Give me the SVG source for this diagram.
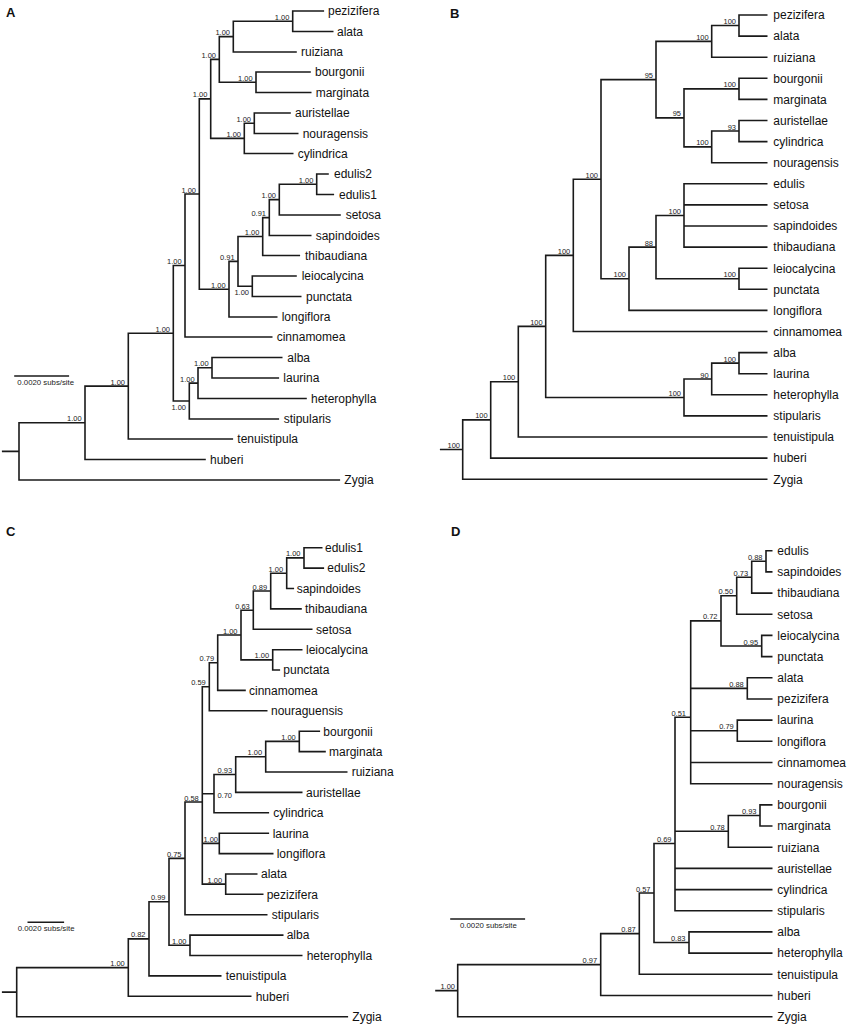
<svg xmlns="http://www.w3.org/2000/svg" width="851" height="1027" viewBox="0 0 851 1027">
<style>
.br{fill:none;stroke:#1a1a1a;stroke-width:1.6;stroke-linecap:square}
.tip{font-family:"Liberation Sans",Arial,sans-serif;font-size:12px;fill:#111}
.sup{font-family:"Liberation Sans",Arial,sans-serif;font-size:7.5px;fill:#222;text-anchor:end}
.sc{font-family:"Liberation Sans",Arial,sans-serif;font-size:7.8px;fill:#222}
.pl{font-family:"Liberation Sans",Arial,sans-serif;font-size:13px;font-weight:bold;fill:#111}
</style>
<rect width="851" height="1027" fill="#fff"/>

<!-- Panel A -->
<g id="panelA">
<text class="pl" x="6" y="17.4">A</text>
<g id="A-connectors">
<path class="br" d="M292.7 11 H323.3 M292.7 31.5 H332.7 M233.3 52 H296 M256 72 H310 M256 92.5 H310.7 M254.3 113 H290 M254.3 133.5 H297.7 M244.3 153.5 H292.7 M316.7 174 H328 M316.7 194.5 H333.3 M279.3 215 H340 M269.3 235.5 H310.7 M262.7 255.5 H299.3 M252.3 276 H296 M252.3 296.5 H300.7 M229 317 H276.7 M185 337 H271.7 M212 357.5 H281.7 M212 378 H278.3 M198 398.5 H306 M189.3 419 H278.3 M128.3 439 H232.3 M85 459.5 H205 M19 480 H339.3
M292.7 11 V31.5 M233.3 21.25 H292.7
M233.3 21.25 V52 M219.3 36.6 H233.3
M256 72 V92.5 M219.3 82.25 H256
M219.3 36.6 V82.25 M210.7 59.4 H219.3
M254.3 113 V133.5 M244.3 123.25 H254.3
M244.3 123.25 V153.5 M210.7 138.4 H244.3
M210.7 59.4 V138.4 M199.3 98.9 H210.7
M316.7 174 V194.5 M279.3 184.25 H316.7
M279.3 184.25 V215 M269.3 199.6 H279.3
M269.3 199.6 V235.5 M262.7 217.6 H269.3
M262.7 217.6 V255.5 M238 236.5 H262.7
M252.3 276 V296.5 M238 286.25 H252.3
M238 236.5 V286.25 M229 261.4 H238
M229 261.4 V317 M199.3 289.2 H229
M199.3 98.9 V289.2 M185 194 H199.3
M185 194 V337 M173.3 265.5 H185
M212 357.5 V378 M198 367.75 H212
M198 367.75 V398.5 M189.3 383.1 H198
M189.3 383.1 V419 M173.3 401 H189.3
M173.3 265.5 V401 M128.3 333.25 H173.3
M128.3 333.25 V439 M85 386.1 H128.3
M85 386.1 V459.5 M19 422.8 H85
M19 422.8 V480 M2.7 451.4 H19"/>
</g>
<g id="A-support">
<text class="sup" x="289.4" y="19.75">1.00</text>
<text class="sup" x="230" y="35.1">1.00</text>
<text class="sup" x="252.7" y="80.75">1.00</text>
<text class="sup" x="216" y="57.9">1.00</text>
<text class="sup" x="251" y="121.75">1.00</text>
<text class="sup" x="241" y="136.9">1.00</text>
<text class="sup" x="207.4" y="97.4">1.00</text>
<text class="sup" x="313.4" y="182.75">1.00</text>
<text class="sup" x="276" y="198.1">1.00</text>
<text class="sup" x="266" y="216.1">0.91</text>
<text class="sup" x="259.4" y="235">1.00</text>
<text class="sup" x="249" y="295.25">1.00</text>
<text class="sup" x="234.7" y="259.9">0.91</text>
<text class="sup" x="225.7" y="287.7">1.00</text>
<text class="sup" x="196" y="192.5">1.00</text>
<text class="sup" x="181.7" y="264">1.00</text>
<text class="sup" x="208.7" y="366.25">1.00</text>
<text class="sup" x="194.7" y="381.6">1.00</text>
<text class="sup" x="186" y="410">1.00</text>
<text class="sup" x="170" y="331.75">1.00</text>
<text class="sup" x="125" y="384.6">1.00</text>
<text class="sup" x="81.7" y="421.3">1.00</text>
</g>
<g id="A-scale">
<path class="br" d="M15 376 H68.3"/>
<text class="sc" x="17.3" y="385.4">0.0020 subs/site</text>
</g>
<g id="A-pezizifera"><text class="tip" x="328" y="15.3">pezizifera</text></g>
<g id="A-alata"><text class="tip" x="337" y="35.8">alata</text></g>
<g id="A-ruiziana"><text class="tip" x="301" y="56.3">ruiziana</text></g>
<g id="A-bourgonii"><text class="tip" x="315" y="76.3">bourgonii</text></g>
<g id="A-marginata"><text class="tip" x="315.7" y="96.8">marginata</text></g>
<g id="A-auristellae"><text class="tip" x="295" y="117.3">auristellae</text></g>
<g id="A-nouragensis"><text class="tip" x="302.7" y="137.8">nouragensis</text></g>
<g id="A-cylindrica"><text class="tip" x="297.7" y="157.8">cylindrica</text></g>
<g id="A-edulis2"><text class="tip" x="334" y="178.3">edulis2</text></g>
<g id="A-edulis1"><text class="tip" x="339" y="198.8">edulis1</text></g>
<g id="A-setosa"><text class="tip" x="345.7" y="219.3">setosa</text></g>
<g id="A-sapindoides"><text class="tip" x="315.7" y="239.8">sapindoides</text></g>
<g id="A-thibaudiana"><text class="tip" x="305" y="259.8">thibaudiana</text></g>
<g id="A-leiocalycina"><text class="tip" x="301.7" y="280.3">leiocalycina</text></g>
<g id="A-punctata"><text class="tip" x="306" y="300.8">punctata</text></g>
<g id="A-longiflora"><text class="tip" x="281.7" y="321.3">longiflora</text></g>
<g id="A-cinnamomea"><text class="tip" x="276.7" y="341.3">cinnamomea</text></g>
<g id="A-alba"><text class="tip" x="287.3" y="361.8">alba</text></g>
<g id="A-laurina"><text class="tip" x="283.3" y="382.3">laurina</text></g>
<g id="A-heterophylla"><text class="tip" x="311" y="402.8">heterophylla</text></g>
<g id="A-stipularis"><text class="tip" x="283.7" y="423.3">stipularis</text></g>
<g id="A-tenuistipula"><text class="tip" x="237.3" y="443.3">tenuistipula</text></g>
<g id="A-huberi"><text class="tip" x="210" y="463.8">huberi</text></g>
<g id="A-Zygia"><text class="tip" x="344.3" y="484.3">Zygia</text></g>
</g>

<!-- Panel B -->
<g id="panelB">
<text class="pl" x="450" y="17.7">B</text>
<g id="B-connectors">
<path class="br" d="M739 15 H766.7 M739 36.1 H766.7 M711.7 57.2 H766.7 M739 78.3 H766.7 M739 99.4 H766.7 M739 120.5 H766.7 M739 141.6 H766.7 M711.7 162.7 H766.7 M684 183.8 H766.7 M684 204.9 H766.7 M684 226 H766.7 M684 247.1 H766.7 M739 268.2 H766.7 M739 289.3 H766.7 M629 310.4 H766.7 M573.3 331.5 H766.7 M739 352.6 H766.7 M739 373.7 H766.7 M711.7 394.8 H766.7 M684 415.9 H766.7 M518.3 437 H766.7 M490.7 458.1 H766.7 M462.7 479.2 H766.7
M739 15 V36.1 M711.7 25.55 H739
M711.7 25.55 V57.2 M656 41.4 H711.7
M739 78.3 V99.4 M684 88.85 H739
M739 120.5 V141.6 M711.7 131.05 H739
M711.7 131.05 V162.7 M684 146.9 H711.7
M684 88.85 V146.9 M656 117.9 H684
M656 41.4 V117.9 M601 79.65 H656
M684 183.8 V247.1 M656 215.45 H684
M739 268.2 V289.3 M656 278.75 H739
M656 215.45 V278.75 M629 247.1 H656
M629 247.1 V310.4 M601 278.75 H629
M601 79.65 V278.75 M573.3 179.2 H601
M573.3 179.2 V331.5 M545.7 255.35 H573.3
M739 352.6 V373.7 M711.7 363.15 H739
M711.7 363.15 V394.8 M684 379 H711.7
M684 379 V415.9 M545.7 397.45 H684
M545.7 255.35 V397.45 M518.3 326.4 H545.7
M518.3 326.4 V437 M490.7 381.7 H518.3
M490.7 381.7 V458.1 M462.7 419.9 H490.7
M462.7 419.9 V479.2 M440.7 449.55 H462.7"/>
</g>
<g id="B-support">
<text class="sup" x="736" y="24.05">100</text>
<text class="sup" x="708.7" y="39.9">100</text>
<text class="sup" x="736" y="87.35">100</text>
<text class="sup" x="736" y="129.55">93</text>
<text class="sup" x="708.7" y="145.4">100</text>
<text class="sup" x="681" y="116.4">95</text>
<text class="sup" x="653" y="78.15">95</text>
<text class="sup" x="681" y="213.95">100</text>
<text class="sup" x="736" y="277.25">100</text>
<text class="sup" x="653" y="245.6">88</text>
<text class="sup" x="626" y="277.25">100</text>
<text class="sup" x="598" y="177.7">100</text>
<text class="sup" x="570.3" y="253.85">100</text>
<text class="sup" x="736" y="361.65">100</text>
<text class="sup" x="708.7" y="377.5">90</text>
<text class="sup" x="681" y="395.95">100</text>
<text class="sup" x="542.7" y="324.9">100</text>
<text class="sup" x="515.3" y="380.2">100</text>
<text class="sup" x="487.7" y="418.4">100</text>
<text class="sup" x="460" y="448">100</text>
</g>
<g id="B-pezizifera"><text class="tip" x="773.3" y="19.3">pezizifera</text></g>
<g id="B-alata"><text class="tip" x="773.3" y="40.4">alata</text></g>
<g id="B-ruiziana"><text class="tip" x="773.3" y="61.5">ruiziana</text></g>
<g id="B-bourgonii"><text class="tip" x="773.3" y="82.6">bourgonii</text></g>
<g id="B-marginata"><text class="tip" x="773.3" y="103.7">marginata</text></g>
<g id="B-auristellae"><text class="tip" x="773.3" y="124.8">auristellae</text></g>
<g id="B-cylindrica"><text class="tip" x="773.3" y="145.9">cylindrica</text></g>
<g id="B-nouragensis"><text class="tip" x="773.3" y="167">nouragensis</text></g>
<g id="B-edulis"><text class="tip" x="773.3" y="188.1">edulis</text></g>
<g id="B-setosa"><text class="tip" x="773.3" y="209.2">setosa</text></g>
<g id="B-sapindoides"><text class="tip" x="773.3" y="230.3">sapindoides</text></g>
<g id="B-thibaudiana"><text class="tip" x="773.3" y="251.4">thibaudiana</text></g>
<g id="B-leiocalycina"><text class="tip" x="773.3" y="272.5">leiocalycina</text></g>
<g id="B-punctata"><text class="tip" x="773.3" y="293.6">punctata</text></g>
<g id="B-longiflora"><text class="tip" x="773.3" y="314.7">longiflora</text></g>
<g id="B-cinnamomea"><text class="tip" x="773.3" y="335.8">cinnamomea</text></g>
<g id="B-alba"><text class="tip" x="773.3" y="356.9">alba</text></g>
<g id="B-laurina"><text class="tip" x="773.3" y="378">laurina</text></g>
<g id="B-heterophylla"><text class="tip" x="773.3" y="399.1">heterophylla</text></g>
<g id="B-stipularis"><text class="tip" x="773.3" y="420.2">stipularis</text></g>
<g id="B-tenuistipula"><text class="tip" x="773.3" y="441.3">tenuistipula</text></g>
<g id="B-huberi"><text class="tip" x="773.3" y="462.4">huberi</text></g>
<g id="B-Zygia"><text class="tip" x="773.3" y="483.5">Zygia</text></g>
</g>

<!-- Panel C -->
<g id="panelC">
<text class="pl" x="6" y="536.4">C</text>
<g id="C-connectors">
<path class="br" d="M304 547.7 H321.7 M304 568.1 H323.3 M286.7 588.5 H293.3 M270.7 608.9 H301 M253.3 629.3 H311.7 M272.7 649.7 H301.7 M272.7 670 H279.3 M217.7 690.4 H245 M209.3 710.8 H266.7 M299.3 731.2 H319.3 M299.3 751.6 H325 M265.7 772 H346.7 M235.7 792.4 H301.7 M214 812.8 H268.3 M219.3 833.2 H268.3 M219.3 853.6 H272.7 M225.7 874 H256.7 M225.7 894.3 H262.7 M185 914.7 H266.7 M190 935.1 H282.7 M190 955.5 H301.7 M149 975.9 H220.7 M128.3 996.3 H250.7 M16.7 1016.7 H347.3
M304 547.7 V568.1 M286.7 557.9 H304
M286.7 557.9 V588.5 M270.7 573.2 H286.7
M270.7 573.2 V608.9 M253.3 591.05 H270.7
M253.3 591.05 V629.3 M241 610.2 H253.3
M272.7 649.7 V670 M241 659.85 H272.7
M241 610.2 V659.85 M217.7 635 H241
M217.7 635 V690.4 M209.3 662.7 H217.7
M209.3 662.7 V710.8 M202.3 686.75 H209.3
M299.3 731.2 V751.6 M265.7 741.4 H299.3
M265.7 741.4 V772 M235.7 756.7 H265.7
M235.7 756.7 V792.4 M214 774.55 H235.7
M214 774.55 V812.8 M202.3 793.7 H214
M219.3 833.2 V853.6 M202.3 843.4 H219.3
M225.7 874 V894.3 M202.3 884.15 H225.7
M202.3 686.75 V884.15 M185 802 H202.3
M185 802 V914.7 M169 858.35 H185
M190 935.1 V955.5 M169 945.3 H190
M169 858.35 V945.3 M149 901.8 H169
M149 901.8 V975.9 M128.3 938.85 H149
M128.3 938.85 V996.3 M16.7 967.6 H128.3
M16.7 967.6 V1016.7 M2.7 992.15 H16.7"/>
</g>
<g id="C-support">
<text class="sup" x="300.5" y="556.4">1.00</text>
<text class="sup" x="283.2" y="571.7">1.00</text>
<text class="sup" x="267.2" y="589.55">0.89</text>
<text class="sup" x="249.8" y="608.7">0.63</text>
<text class="sup" x="269.2" y="658.35">1.00</text>
<text class="sup" x="237.5" y="633.5">1.00</text>
<text class="sup" x="214.2" y="661.2">0.79</text>
<text class="sup" x="205.8" y="685.25">0.59</text>
<text class="sup" x="295.8" y="739.9">1.00</text>
<text class="sup" x="262.2" y="755.2">1.00</text>
<text class="sup" x="232.2" y="773.05">0.93</text>
<text class="sup" x="232" y="797.7">0.70</text>
<text class="sup" x="218" y="841.9">1.00</text>
<text class="sup" x="222.2" y="882.65">1.00</text>
<text class="sup" x="198.8" y="800.5">0.58</text>
<text class="sup" x="181.5" y="856.85">0.75</text>
<text class="sup" x="186.5" y="943.8">1.00</text>
<text class="sup" x="165.5" y="900.3">0.99</text>
<text class="sup" x="145.5" y="937.35">0.82</text>
<text class="sup" x="124.8" y="966.1">1.00</text>
</g>
<g id="C-scale">
<path class="br" d="M28.3 922.3 H63.3"/>
<text class="sc" x="17.7" y="931">0.0020 subs/site</text>
</g>
<g id="C-edulis1"><text class="tip" x="325" y="552">edulis1</text></g>
<g id="C-edulis2"><text class="tip" x="327.3" y="572.4">edulis2</text></g>
<g id="C-sapindoides"><text class="tip" x="296.7" y="592.8">sapindoides</text></g>
<g id="C-thibaudiana"><text class="tip" x="305" y="613.2">thibaudiana</text></g>
<g id="C-setosa"><text class="tip" x="316" y="633.6">setosa</text></g>
<g id="C-leiocalycina"><text class="tip" x="306" y="654">leiocalycina</text></g>
<g id="C-punctata"><text class="tip" x="283.3" y="674.3">punctata</text></g>
<g id="C-cinnamomea"><text class="tip" x="249" y="694.7">cinnamomea</text></g>
<g id="C-nouraguensis"><text class="tip" x="271" y="715.1">nouraguensis</text></g>
<g id="C-bourgonii"><text class="tip" x="323.3" y="735.5">bourgonii</text></g>
<g id="C-marginata"><text class="tip" x="329" y="755.9">marginata</text></g>
<g id="C-ruiziana"><text class="tip" x="351.7" y="776.3">ruiziana</text></g>
<g id="C-auristellae"><text class="tip" x="306" y="796.7">auristellae</text></g>
<g id="C-cylindrica"><text class="tip" x="273.3" y="817.1">cylindrica</text></g>
<g id="C-laurina"><text class="tip" x="272.7" y="837.5">laurina</text></g>
<g id="C-longiflora"><text class="tip" x="276.7" y="857.9">longiflora</text></g>
<g id="C-alata"><text class="tip" x="261" y="878.3">alata</text></g>
<g id="C-pezizifera"><text class="tip" x="266.7" y="898.6">pezizifera</text></g>
<g id="C-stipularis"><text class="tip" x="271.7" y="919">stipularis</text></g>
<g id="C-alba"><text class="tip" x="286.7" y="939.4">alba</text></g>
<g id="C-heterophylla"><text class="tip" x="306.7" y="959.8">heterophylla</text></g>
<g id="C-tenuistipula"><text class="tip" x="225.7" y="980.2">tenuistipula</text></g>
<g id="C-huberi"><text class="tip" x="255.7" y="1000.6">huberi</text></g>
<g id="C-Zygia"><text class="tip" x="352.3" y="1021">Zygia</text></g>
</g>

<!-- Panel D -->
<g id="panelD">
<text class="pl" x="451" y="536.4">D</text>
<g id="D-connectors">
<path class="br" d="M766 550.7 H771.7 M766 571.9 H771.7 M751.7 593.1 H771.7 M736.7 614.2 H771.7 M761.7 635.4 H771.7 M761.7 656.6 H771.7 M747.3 677.8 H771.7 M747.3 699 H771.7 M737.3 720.1 H771.7 M737.3 741.3 H771.7 M690.7 762.5 H771.7 M690.7 783.7 H771.7 M760 804.9 H771.7 M760 826 H771.7 M728.3 847.2 H771.7 M675 868.4 H771.7 M675 889.6 H771.7 M675 910.8 H771.7 M689 931.9 H771.7 M689 953.1 H771.7 M639.3 974.3 H771.7 M600.7 995.5 H771.7 M457.7 1016.7 H771.7
M766 550.7 V571.9 M751.7 561.3 H766
M751.7 561.3 V593.1 M736.7 577.2 H751.7
M736.7 577.2 V614.2 M721 595.7 H736.7
M761.7 635.4 V656.6 M721 646 H761.7
M721 595.7 V646 M690.7 620.85 H721
M747.3 677.8 V699 M690.7 688.4 H747.3
M737.3 720.1 V741.3 M690.7 730.7 H737.3
M690.7 620.85 V783.7 M675 717.2 H690.7
M760 804.9 V826 M728.3 815.45 H760
M728.3 815.45 V847.2 M675 831.3 H728.3
M675 717.2 V910.8 M654 843.5 H675
M689 931.9 V953.1 M654 942.5 H689
M654 843.5 V942.5 M639.3 893 H654
M639.3 893 V974.3 M600.7 933.65 H639.3
M600.7 933.65 V995.5 M457.7 964.6 H600.7
M457.7 964.6 V1016.7 M436 990.65 H457.7"/>
</g>
<g id="D-support">
<text class="sup" x="762.5" y="559.8">0.88</text>
<text class="sup" x="748.2" y="575.7">0.73</text>
<text class="sup" x="733.2" y="594.2">0.50</text>
<text class="sup" x="758.2" y="644.5">0.95</text>
<text class="sup" x="717.5" y="619.35">0.72</text>
<text class="sup" x="743.8" y="686.9">0.88</text>
<text class="sup" x="733.8" y="729.2">0.79</text>
<text class="sup" x="686" y="715.7">0.51</text>
<text class="sup" x="756.5" y="813.95">0.93</text>
<text class="sup" x="724.8" y="829.8">0.78</text>
<text class="sup" x="671.5" y="842">0.69</text>
<text class="sup" x="685.5" y="941">0.83</text>
<text class="sup" x="650.5" y="891.5">0.57</text>
<text class="sup" x="635.8" y="932.15">0.87</text>
<text class="sup" x="597.2" y="963.1">0.97</text>
<text class="sup" x="455" y="989.15">1.00</text>
</g>
<g id="D-scale">
<path class="br" d="M451 919 H524.3"/>
<text class="sc" x="460" y="928.4">0.0020 subs/site</text>
</g>
<g id="D-edulis"><text class="tip" x="777.3" y="555">edulis</text></g>
<g id="D-sapindoides"><text class="tip" x="777.3" y="576.2">sapindoides</text></g>
<g id="D-thibaudiana"><text class="tip" x="777.3" y="597.4">thibaudiana</text></g>
<g id="D-setosa"><text class="tip" x="777.3" y="618.5">setosa</text></g>
<g id="D-leiocalycina"><text class="tip" x="777.3" y="639.7">leiocalycina</text></g>
<g id="D-punctata"><text class="tip" x="777.3" y="660.9">punctata</text></g>
<g id="D-alata"><text class="tip" x="777.3" y="682.1">alata</text></g>
<g id="D-pezizifera"><text class="tip" x="777.3" y="703.3">pezizifera</text></g>
<g id="D-laurina"><text class="tip" x="777.3" y="724.4">laurina</text></g>
<g id="D-longiflora"><text class="tip" x="777.3" y="745.6">longiflora</text></g>
<g id="D-cinnamomea"><text class="tip" x="777.3" y="766.8">cinnamomea</text></g>
<g id="D-nouragensis"><text class="tip" x="777.3" y="788">nouragensis</text></g>
<g id="D-bourgonii"><text class="tip" x="777.3" y="809.2">bourgonii</text></g>
<g id="D-marginata"><text class="tip" x="777.3" y="830.3">marginata</text></g>
<g id="D-ruiziana"><text class="tip" x="777.3" y="851.5">ruiziana</text></g>
<g id="D-auristellae"><text class="tip" x="777.3" y="872.7">auristellae</text></g>
<g id="D-cylindrica"><text class="tip" x="777.3" y="893.9">cylindrica</text></g>
<g id="D-stipularis"><text class="tip" x="777.3" y="915.1">stipularis</text></g>
<g id="D-alba"><text class="tip" x="777.3" y="936.2">alba</text></g>
<g id="D-heterophylla"><text class="tip" x="777.3" y="957.4">heterophylla</text></g>
<g id="D-tenuistipula"><text class="tip" x="777.3" y="978.6">tenuistipula</text></g>
<g id="D-huberi"><text class="tip" x="777.3" y="999.8">huberi</text></g>
<g id="D-Zygia"><text class="tip" x="777.3" y="1021">Zygia</text></g>
</g>
</svg>
